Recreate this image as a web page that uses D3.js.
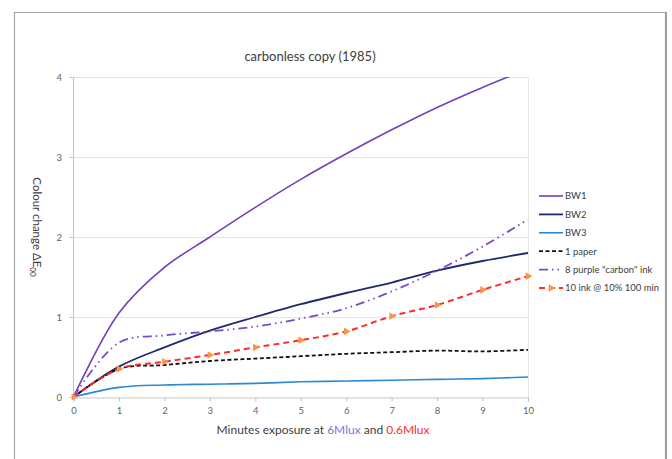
<!DOCTYPE html>
<html><head><meta charset="utf-8">
<script src="https://cdn.jsdelivr.net/npm/d3@7"></script>
<style>body{margin:0;background:#fff}svg{display:block}text{font-family:Lato,"Open Sans",sans-serif}</style>
</head><body><svg id="c" width="672" height="459"></svg>
<script>
const xs = [0,1,2,3,4,5,6,7,8,9,10];
const bw1 = [0,1.05,1.62,2.0,2.37,2.72,3.04,3.34,3.62,3.87,4.1];
const bw2 = [0,0.38,0.62,0.83,1.0,1.16,1.3,1.43,1.58,1.7,1.8];
const bw3 = [0,0.12,0.15,0.16,0.17,0.19,0.2,0.21,0.22,0.23,0.25];
const paper = [0,0.35,0.4,0.45,0.48,0.51,0.54,0.56,0.58,0.57,0.59];
const purpleInk = [0,0.68,0.77,0.82,0.88,0.98,1.11,1.32,1.58,1.88,2.22];
const inkRed = [0,0.35,0.44,0.525,0.62,0.71,0.82,1.01,1.15,1.34,1.51];
const seriesNames = ["BW1","BW2","BW3","1 paper","8 purple \"carbon\" ink","10 ink @ 10% 100 min"];
const xTicks = [0,1,2,3,4,5,6,7,8,9,10];
const yTicks = [0,1,2,3,4];

const svg = d3.select("#c");
const x = d3.scaleLinear().domain([0,10]).range([73.5,528]);
const y = d3.scaleLinear().domain([0,4]).range([397,77]);

// outer frame
svg.append("path").attr("d","M14.5,459 V12.5 H665.5 V459").attr("fill","none").attr("stroke","#a6a6a6").attr("stroke-width",1.2);
svg.append("line").attr("x1",666).attr("x2",666).attr("y1",12).attr("y2",459).attr("stroke","#a0a0a0").attr("stroke-width",2);

// gridlines
svg.append("g").selectAll("line").data(yTicks.filter(d=>d>0)).join("line")
  .attr("x1",x(0)).attr("x2",x(10)).attr("y1",d=>y(d)+0.5).attr("y2",d=>y(d)+0.5)
  .attr("stroke","#e3e3e3").attr("stroke-width",1);
svg.append("line").attr("x1",x(10)+0.5).attr("x2",x(10)+0.5).attr("y1",y(4)).attr("y2",y(0))
  .attr("stroke","#e6e6e6");

// axes
const xa = svg.append("g").attr("transform",`translate(0,${y(0)+0.5})`)
  .call(d3.axisBottom(x).tickValues(xTicks).tickSize(4).tickFormat(d3.format("d")));
const ya = svg.append("g").attr("transform",`translate(${x(0)-0.5},0)`)
  .call(d3.axisLeft(y).tickValues(yTicks).tickSize(4).tickFormat(d3.format("d")));
[xa,ya].forEach(a=>{
  a.select(".domain").attr("stroke","#c4c4c4");
  a.selectAll(".tick line").attr("stroke","#c4c4c4");
  a.selectAll(".tick text").attr("fill","#5f5f5f").attr("font-size",9.5).attr("font-family","Lato,sans-serif");
});
xa.selectAll(".tick text").attr("dy","1.05em");
ya.selectAll(".tick text").attr("dx","-4");

// clip
svg.append("clipPath").attr("id","pc").append("rect")
  .attr("x",x(0)-2).attr("y",y(4)).attr("width",x(10)-x(0)+6).attr("height",y(0)-y(4)+4);

const line = d3.line().x((d,i)=>x(xs[i])).y(d=>y(d)).curve(d3.curveCatmullRom.alpha(0.5));
const styles = [
  {data:bw1, color:"#7240b8", w:1.6, dash:null},
  {data:bw2, color:"#1f2a6b", w:1.8, dash:null},
  {data:bw3, color:"#2a8ad6", w:1.6, dash:null},
  {data:paper, color:"#111111", w:1.8, dash:"4,2.5"},
  {data:purpleInk, color:"#7a4ac4", w:1.8, dash:"9,4,1.5,4,1.5,4"},
  {data:inkRed, color:"#ff2a2a", w:2, dash:"6,4"}
];
const g = svg.append("g").attr("clip-path","url(#pc)");
styles.forEach(s=>{
  g.append("path").attr("d",line(s.data)).attr("fill","none").attr("stroke",s.color)
   .attr("stroke-width",s.w).attr("stroke-dasharray",s.dash);
});
// markers on red series
const tri = d3.symbol().type(d3.symbolTriangle).size(26);
g.selectAll("path.mk").data(inkRed).join("path").attr("class","mk")
  .attr("d",tri()).attr("fill","#f79646")
  .attr("transform",(d,i)=>`translate(${x(xs[i])},${y(d)}) rotate(90)`);

// title
svg.append("text").attr("x",310).attr("y",61).attr("text-anchor","middle")
  .attr("font-size",13).attr("fill","#404040").text("carbonless copy (1985)");

// y label
const yl = svg.append("text").attr("transform","translate(33,227) rotate(90)").attr("text-anchor","middle")
  .attr("font-size",11.5).attr("fill","#404040");
yl.append("tspan").text("Colour change ΔE");
yl.append("tspan").attr("font-size",8).attr("dy",3).text("00");

// x label
const xl = svg.append("text").attr("x",323).attr("y",434).attr("text-anchor","middle")
  .attr("font-size",12).attr("fill","#404040");
xl.append("tspan").text("Minutes exposure at ");
xl.append("tspan").attr("fill","#8a6fd1").text("6Mlux");
xl.append("tspan").text(" and ");
xl.append("tspan").attr("fill","#ff2a2a").text("0.6Mlux");

// legend
const lg = svg.append("g");
const ly0 = 196, lstep = 18.4;
styles.forEach((s,i)=>{
  const yy = ly0 + i*lstep;
  lg.append("line").attr("x1",539).attr("x2",563).attr("y1",yy).attr("y2",yy)
    .attr("stroke",s.color).attr("stroke-width",s.w).attr("stroke-dasharray",s.dash);
  if(i===5){
    lg.append("path").attr("d",tri()).attr("fill","#f79646").attr("transform",`translate(551,${yy}) rotate(90)`);
  }
  lg.append("text").attr("x",565).attr("y",yy+3.3).attr("font-size",9.5).attr("fill","#404040").text(seriesNames[i]);
});
</script></body></html>
